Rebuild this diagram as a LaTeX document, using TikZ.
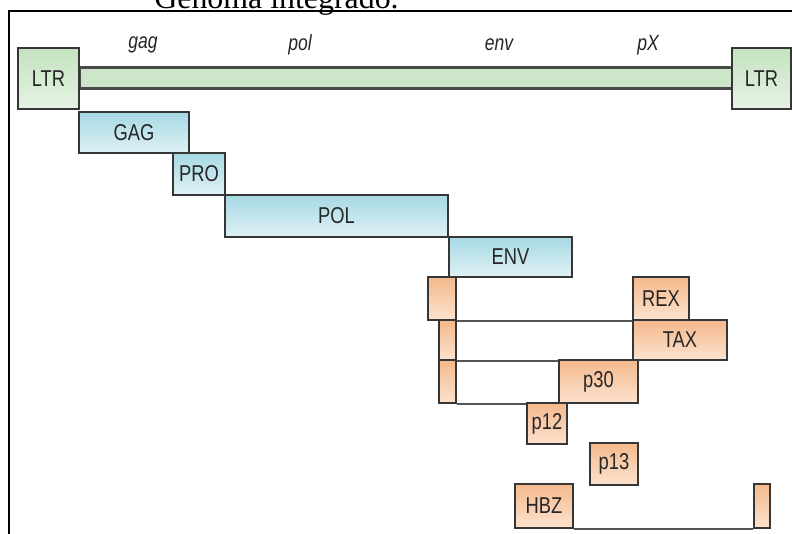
\documentclass[tikz,border=0pt]{standalone}
\usepackage{fontspec}
\setmainfont{Liberation Serif}
\newfontfamily\labfont[FakeStretch=0.8]{Liberation Sans}
\definecolor{boxline}{HTML}{363636}
\definecolor{labtext}{HTML}{262626}
\definecolor{greenA}{HTML}{C4E2C0}
\definecolor{greenB}{HTML}{E6F3E3}
\definecolor{blueA}{HTML}{A6D9E4}
\definecolor{blueB}{HTML}{E0F1F5}
\definecolor{orangeA}{HTML}{F4B98C}
\definecolor{orangeB}{HTML}{FCE2CE}
\tikzset{
  sz/.style 2 args={minimum width=#1bp, minimum height=#2bp},
  box/.style={draw=boxline, line width=1.9bp, rectangle, inner sep=0pt,
    anchor=north west, text=labtext,
    font=\labfont\fontsize{23}{23}\selectfont},
  ltrbox/.style={box, top color=greenA, bottom color=greenB},
  protbox/.style={box, top color=blueA, bottom color=blueB},
  accbox/.style={box, top color=orangeA, bottom color=orangeB},
  genelab/.style={text=labtext, font=\labfont\itshape\fontsize{22}{22}\selectfont},
  splice/.style={draw=boxline!85, line width=1.4bp},
}
\begin{document}
\begin{tikzpicture}[x=1bp,y=-1bp]
\useasboundingbox (0,0) rectangle (792,534);
\clip (0,0) rectangle (792,534);
\fill[white] (0,0) rectangle (792,534);

% heading and frame
\node[anchor=base, font=\fontsize{32}{32}\selectfont] (title) at (276.5,8.5) {Genoma integrado.};
\draw[line width=1.6bp] (8,11) -- (792,11);
\draw[line width=2bp] (9,10) -- (9,534);

% provirus: LTR -- coding region -- LTR
\node[box, sz={653}{21}, line width=3bp, draw=boxline!90, fill=greenA!85] (bar) at (78,66) {};
\node[ltrbox, sz={61}{61}] (ltrL) at (17,47) {LTR};
\node[ltrbox, sz={59}{61}] (ltrR) at (731,47) {LTR};

% gene names
\node[genelab] (lgag) at (143,45) {gag};
\node[genelab] (lpol) at (300,45) {pol};
\node[genelab] (lenv) at (499,45) {env};
\node[genelab] (lpx)  at (648,45) {pX};

% structural proteins
\node[protbox, sz={110}{41}] (gag) at (78,111) {GAG};
\node[protbox, sz={52}{42}]  (pro) at (172,152) {PRO};
\node[protbox, sz={223}{42}] (pol) at (224,194) {POL};
\node[protbox, sz={123}{40}] (env) at (448,236) {ENV};

% accessory proteins (spliced transcripts)
\node[accbox, sz={28}{43}] (ex1) at (427,276) {};
\node[accbox, sz={56}{43}] (rex) at (632,276) {REX};
\draw[splice] (ex1.south east) -- (rex.south west);

\node[accbox, sz={17}{40}] (ex2) at (438,319) {};
\node[accbox, sz={94}{40}] (tax) at (632,319) {TAX};
\draw[splice] (ex2.south east) -- (tax.south west);

\node[accbox, sz={17}{43}] (ex3) at (438,359) {};
\node[accbox, sz={79}{43}] (p30) at (558,359) {p30};
\draw[splice] (ex3.south east) -- (p30.south west);

\node[accbox, sz={40}{41}] (p12) at (526,402) {p12};
\node[accbox, sz={48}{42}] (p13) at (589,442) {p13};

\node[accbox, sz={58}{44}] (hbz) at (514,483) {HBZ};
\node[accbox, sz={16}{44}] (ex4) at (753,483) {};
\draw[splice] (hbz.south east) -- (ex4.south west);
\end{tikzpicture}
\end{document}
